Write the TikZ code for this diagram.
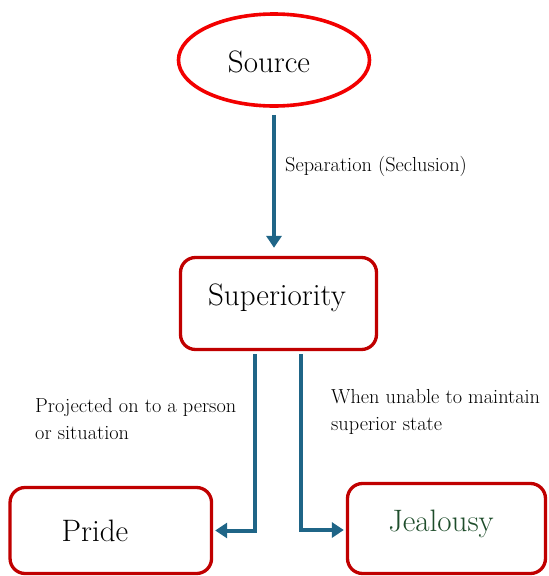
\documentclass[tikz,border=0pt]{standalone}
\usetikzlibrary{shapes.geometric,arrows.meta}
\definecolor{srcred}{HTML}{F20000}
\definecolor{boxred}{HTML}{C00000}
\definecolor{connblue}{HTML}{1F6587}
\definecolor{jgreen}{HTML}{1E4D2B}
\tikzset{
  mainlabel/.style={font=\fontsize{31}{36}\selectfont, inner sep=0pt},
  smalllabel/.style={font=\fontsize{20.3}{26.5}\selectfont, inner sep=0pt, align=left, anchor=west},
  rbox/.style={draw=boxred, line width=3.3pt, rounded corners=15pt, inner sep=0pt},
  conn/.style={draw=connblue, line width=4pt, -{Triangle[width=15pt,length=12pt]}}
}
\begin{document}
\begin{tikzpicture}[x=1pt,y=-1pt]
\useasboundingbox (0,0) rectangle (549,576);
\node[ellipse, draw=srcred, line width=3.6pt, minimum width=191pt, minimum height=92pt, inner sep=0pt] (source) at (274,60) {};
\node[mainlabel] (sourcet) at (269,62) {Source};
\node[rbox, minimum width=196pt, minimum height=92pt] (sup) at (278.5,303.5) {};
\node[mainlabel] (supt) at (277,298) {Superiority};
\node[rbox, minimum width=201.5pt, minimum height=86pt] (pride) at (110.8,530.5) {};
\node[mainlabel] (pridet) at (95,531) {Pride};
\node[rbox, minimum width=198pt, minimum height=90pt] (jeal) at (446.5,528.5) {};
\node[mainlabel, text=jgreen] (jealt) at (441,524) {Jealousy};
\node[smalllabel] (lsep) at (285,166) {Separation (Seclusion)};
\node[smalllabel] (lproj) at (35,419) {Projected on to a person\\or situation};
\node[smalllabel] (lwhen) at (331,412) {When unable to maintain\\superior state};
\draw[conn, shorten <=7pt, shorten >=8pt] (source.south) -- (source.south |- sup.north);
\draw[conn, shorten <=3pt, shorten >=2pt] ([xshift=-23.5pt]sup.south) |- (pride.east);
\draw[conn, shorten <=3pt, shorten >=2pt] ([xshift=22.5pt]sup.south) |- ([yshift=-1.5pt]jeal.west);
\end{tikzpicture}
\end{document}
